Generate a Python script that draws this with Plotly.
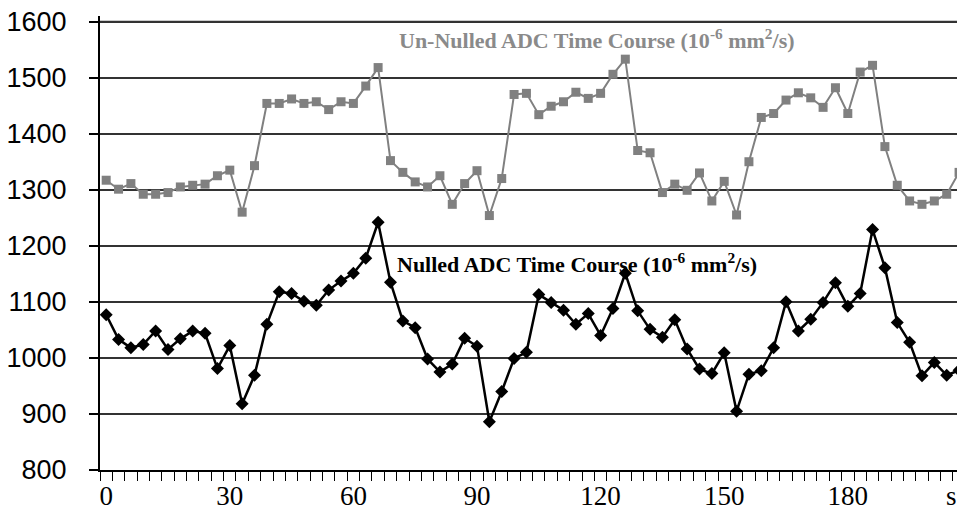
import plotly.graph_objects as go

time_s = list(range(0, 210, 3))

unnulled = [1317, 1301, 1311, 1292, 1292, 1295, 1305, 1308, 1310, 1325,
            1335, 1260, 1343, 1454, 1454, 1462, 1454, 1457, 1443, 1457,
            1454, 1485, 1518, 1352, 1331, 1314, 1305, 1325, 1274, 1311,
            1334, 1254, 1320, 1470, 1472, 1434, 1449, 1457, 1474, 1463,
            1472, 1506, 1533, 1370, 1366, 1295, 1310, 1299, 1330, 1280,
            1315, 1255, 1350, 1429, 1436, 1460, 1473, 1464, 1447, 1482,
            1436, 1510, 1522, 1377, 1308, 1280, 1274, 1280, 1292, 1331]

nulled = [1077, 1033, 1018, 1024, 1048, 1015, 1034, 1048, 1044, 981,
          1022, 918, 969, 1060, 1118, 1115, 1101, 1094, 1121, 1137,
          1151, 1178, 1242, 1135, 1066, 1054, 998, 975, 989, 1035,
          1021, 886, 940, 999, 1010, 1113, 1099, 1085, 1060, 1079,
          1040, 1088, 1151, 1084, 1051, 1037, 1068, 1016, 980, 972,
          1009, 905, 971, 977, 1018, 1100, 1048, 1069, 1099, 1134,
          1092, 1115, 1229, 1161, 1063, 1028, 968, 992, 969, 978]

x_ticks = [0, 30, 60, 90, 120, 150, 180]
y_ticks = [800, 900, 1000, 1100, 1200, 1300, 1400, 1500, 1600]

label_unnulled = "Un-Nulled ADC Time Course (10<sup>-6</sup> mm<sup>2</sup>/s)"
label_nulled = "Nulled ADC Time Course (10<sup>-6</sup> mm<sup>2</sup>/s)"

fig = go.Figure()
fig.add_hline(y=y_ticks[-1], line=dict(color="#333333", width=1.5))
fig.add_trace(go.Scatter(
    x=time_s, y=unnulled, mode="lines+markers",
    line=dict(color="#808080", width=2),
    marker=dict(symbol="square", size=9, color="#808080"),
    showlegend=False))
fig.add_trace(go.Scatter(
    x=time_s, y=nulled, mode="lines+markers",
    line=dict(color="black", width=2.5),
    marker=dict(symbol="diamond", size=10, color="black"),
    showlegend=False))

fig.add_annotation(x=70.5, y=1569, xref="x", yref="y", xanchor="left", yanchor="middle",
                   text="<b>" + label_unnulled + "</b>", showarrow=False,
                   font=dict(family="Liberation Serif", size=22, color="#8a8a8a"))
fig.add_annotation(x=70.1, y=1169, xref="x", yref="y", xanchor="left", yanchor="middle",
                   text="<b>" + label_nulled + "</b>", showarrow=False,
                   font=dict(family="Liberation Serif", size=22, color="black"))
fig.add_annotation(x=0.993, y=-0.058, xref="paper", yref="paper", xanchor="center", yanchor="middle",
                   text="s", showarrow=False,
                   font=dict(family="Liberation Serif", size=27, color="black"))

fig.update_layout(
    width=957, height=510,
    margin=dict(l=100, r=0, t=16, b=40, autoexpand=False),
    paper_bgcolor="white", plot_bgcolor="white",
    xaxis=dict(range=[-1.5, 206.5], tickvals=x_ticks, ticktext=[str(v) for v in x_ticks],
               ticks="", showgrid=False, zeroline=False, automargin=False,
               showline=True, linecolor="black", linewidth=2,
               tickfont=dict(family="Liberation Serif", size=27, color="black"),
               ticklabelstandoff=1,
               minor=dict(tick0=-1.5, dtick=3, ticks="outside", ticklen=9,
                          tickcolor="black", tickwidth=1.2, showgrid=False)),
    yaxis=dict(range=[800, 1610], tickvals=y_ticks, ticks="outside", ticklen=9,
               tickcolor="black", tickwidth=1.5, automargin=False,
               showgrid=True, gridcolor="#333333", gridwidth=1.5, zeroline=False,
               showline=True, linecolor="black", linewidth=2,
               tickfont=dict(family="Liberation Sans", size=27, color="black"),
               ticklabelstandoff=17),
)

fig.write_html("out.html", config={"displayModeBar": False},
               post_script="document.body.style.margin='0';document.body.style.overflow='hidden';")
